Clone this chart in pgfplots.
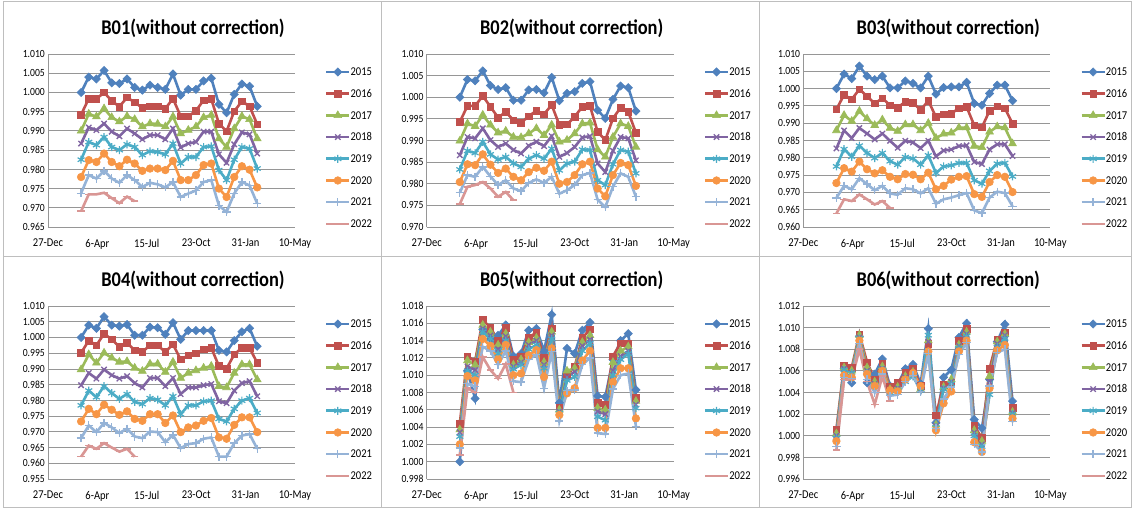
\documentclass[border=0pt]{standalone}
\usepackage{fontspec}
\setmainfont{Carlito}[FakeStretch=0.88]
\usepackage{pgfplots}
\usepackage{pgfplotstable}
\pgfplotsset{compat=1.18}

\definecolor{c1}{RGB}{79,129,189}
\definecolor{c2}{RGB}{192,80,77}
\definecolor{c3}{RGB}{155,187,89}
\definecolor{c4}{RGB}{128,100,162}
\definecolor{c5}{RGB}{75,172,198}
\definecolor{c6}{RGB}{247,150,70}
\definecolor{c7}{RGB}{149,179,215}
\definecolor{c8}{RGB}{217,150,148}
\definecolor{gridc}{RGB}{150,150,150}
\definecolor{framec}{RGB}{190,190,190}

% x = days after 27-Dec; columns a..h = 2015..2022
\pgfplotstableread{
x a b c d e f g h
67 1.0000 0.9942 0.9900 0.9867 0.9825 0.9780 0.9738 0.9691
82.5 1.0040 0.9984 0.9944 0.9909 0.9871 0.9824 0.9785 0.9735
98 1.0035 0.9983 0.9937 0.9902 0.9863 0.9819 0.9776 0.9735
113.5 1.0057 1.0000 0.9958 0.9919 0.9884 0.9841 0.9796 0.9739
129 1.0025 0.9978 0.9935 0.9898 0.9858 0.9819 0.9776 0.9725
144.5 1.0023 0.9963 0.9924 0.9886 0.9850 0.9808 0.9765 0.9712
160 1.0035 0.9987 0.9938 0.9906 0.9865 0.9825 0.9785 0.9729
175.5 1.0013 0.9974 0.9930 0.9893 0.9858 0.9815 0.9772 0.9717
191 1.0006 0.9960 0.9911 0.9878 0.9837 0.9796 0.9754 nan
206.5 1.0019 0.9964 0.9919 0.9889 0.9847 0.9802 0.9765 nan
222 1.0013 0.9964 0.9918 0.9889 0.9845 0.9802 0.9761 nan
237.5 1.0008 0.9958 0.9911 0.9878 0.9839 0.9798 0.9753 nan
253 1.0048 0.9984 0.9937 0.9906 0.9867 0.9822 0.9767 nan
268.5 0.9993 0.9938 0.9893 0.9857 0.9815 0.9772 0.9728 nan
284 1.0008 0.9938 0.9902 0.9867 0.9832 0.9772 0.9737 nan
299.5 1.0008 0.9952 0.9911 0.9871 0.9832 0.9785 0.9745 nan
315 1.0030 0.9980 0.9935 0.9898 0.9858 0.9811 0.9767 nan
330.5 1.0037 0.9983 0.9941 0.9898 0.9860 0.9815 0.9772 nan
346 0.9969 0.9919 0.9880 0.9839 0.9798 0.9750 0.9706 nan
361.5 0.9947 0.9899 0.9858 0.9817 0.9772 0.9728 0.9689 nan
377 0.9995 0.9951 0.9906 0.9865 0.9825 0.9780 0.9737 nan
392.5 1.0022 0.9977 0.9938 0.9896 0.9858 0.9808 0.9767 nan
408 1.0016 0.9964 0.9930 0.9891 0.9854 0.9799 0.9758 nan
423.5 0.9964 0.9917 0.9880 0.9841 0.9802 0.9753 0.9711 nan
}\tabA

\pgfplotstableread{
x a b c d e f g h
67 1.0000 0.9943 0.9899 0.9866 0.9833 0.9804 0.9779 0.9753
82.5 1.0041 0.9980 0.9939 0.9908 0.9876 0.9845 0.9820 0.9793
98 1.0038 0.9980 0.9933 0.9905 0.9871 0.9843 0.9816 0.9797
113.5 1.0061 1.0003 0.9959 0.9928 0.9897 0.9868 0.9839 0.9804
129 1.0027 0.9978 0.9936 0.9901 0.9868 0.9844 0.9817 0.9789
144.5 1.0018 0.9953 0.9918 0.9885 0.9856 0.9825 0.9797 0.9770
160 1.0022 0.9966 0.9922 0.9893 0.9862 0.9835 0.9808 0.9781
175.5 0.9993 0.9947 0.9908 0.9878 0.9847 0.9816 0.9789 0.9762
191 0.9993 0.9941 0.9907 0.9870 0.9839 0.9808 0.9783 nan
206.5 1.0017 0.9956 0.9916 0.9888 0.9858 0.9827 0.9802 nan
222 1.0018 0.9969 0.9928 0.9897 0.9866 0.9837 0.9810 nan
237.5 1.0010 0.9961 0.9912 0.9887 0.9858 0.9830 0.9802 nan
253 1.0046 0.9982 0.9936 0.9910 0.9881 0.9851 0.9816 nan
268.5 0.9992 0.9936 0.9897 0.9862 0.9831 0.9800 0.9777 nan
284 1.0009 0.9937 0.9901 0.9871 0.9847 0.9804 0.9785 nan
299.5 1.0013 0.9955 0.9916 0.9885 0.9851 0.9820 0.9797 nan
315 1.0032 0.9978 0.9939 0.9907 0.9879 0.9845 0.9820 nan
330.5 1.0036 0.9980 0.9941 0.9910 0.9878 0.9851 0.9825 nan
346 0.9970 0.9920 0.9879 0.9847 0.9808 0.9789 0.9763 nan
361.5 0.9951 0.9901 0.9862 0.9827 0.9797 0.9771 0.9746 nan
377 0.9995 0.9951 0.9908 0.9876 0.9845 0.9820 0.9793 nan
392.5 1.0026 0.9976 0.9939 0.9908 0.9878 0.9848 0.9824 nan
408 1.0022 0.9966 0.9933 0.9905 0.9874 0.9843 0.9816 nan
423.5 0.9968 0.9918 0.9885 0.9854 0.9824 0.9795 0.9770 nan
}\tabB

\pgfplotstableread{
x a b c d e f g h
67 1.0000 0.9940 0.9879 0.9827 0.9775 0.9727 0.9684 0.9639
82.5 1.0042 0.9982 0.9923 0.9879 0.9825 0.9770 0.9719 0.9680
98 1.0029 0.9969 0.9906 0.9857 0.9803 0.9760 0.9709 0.9675
113.5 1.0065 0.9998 0.9935 0.9886 0.9835 0.9789 0.9741 0.9694
129 1.0036 0.9978 0.9913 0.9870 0.9814 0.9767 0.9724 0.9680
144.5 1.0026 0.9957 0.9894 0.9853 0.9799 0.9755 0.9706 0.9665
160 1.0036 0.9972 0.9910 0.9870 0.9814 0.9764 0.9719 0.9675
175.5 1.0002 0.9952 0.9886 0.9849 0.9790 0.9745 0.9697 0.9655
191 1.0002 0.9945 0.9877 0.9829 0.9780 0.9738 0.9693 nan
206.5 1.0022 0.9962 0.9896 0.9849 0.9802 0.9753 0.9712 nan
222 1.0015 0.9959 0.9896 0.9844 0.9798 0.9751 0.9709 nan
237.5 1.0002 0.9938 0.9879 0.9828 0.9780 0.9738 0.9697 nan
253 1.0036 0.9965 0.9900 0.9849 0.9807 0.9757 0.9712 nan
268.5 0.9984 0.9918 0.9857 0.9804 0.9756 0.9709 0.9667 nan
284 1.0003 0.9926 0.9869 0.9821 0.9775 0.9719 0.9680 nan
299.5 1.0005 0.9928 0.9872 0.9824 0.9778 0.9737 0.9685 nan
315 1.0005 0.9943 0.9887 0.9834 0.9785 0.9745 0.9692 nan
330.5 1.0018 0.9947 0.9887 0.9836 0.9785 0.9747 0.9698 nan
346 0.9957 0.9894 0.9834 0.9788 0.9735 0.9695 0.9648 nan
361.5 0.9952 0.9888 0.9830 0.9782 0.9725 0.9687 0.9640 nan
377 0.9986 0.9936 0.9875 0.9824 0.9762 0.9730 0.9685 nan
392.5 1.0010 0.9949 0.9890 0.9839 0.9783 0.9750 0.9702 nan
408 1.0010 0.9943 0.9887 0.9839 0.9785 0.9745 0.9698 nan
423.5 0.9965 0.9899 0.9841 0.9805 0.9746 0.9701 0.9660 nan
}\tabC

\pgfplotstableread{
x a b c d e f g h
67 1.0000 0.9951 0.9898 0.9848 0.9784 0.9733 0.9680 0.9621
82.5 1.0039 0.9990 0.9946 0.9887 0.9831 0.9773 0.9720 0.9656
98 1.0029 0.9975 0.9919 0.9869 0.9810 0.9756 0.9699 0.9646
113.5 1.0066 1.0012 0.9951 0.9898 0.9845 0.9786 0.9728 0.9664
129 1.0039 0.9994 0.9935 0.9880 0.9823 0.9770 0.9714 0.9650
144.5 1.0036 0.9970 0.9922 0.9869 0.9805 0.9754 0.9696 0.9637
160 1.0041 0.9983 0.9924 0.9877 0.9820 0.9765 0.9710 0.9646
175.5 1.0007 0.9959 0.9903 0.9855 0.9795 0.9741 0.9685 0.9621
191 1.0007 0.9954 0.9893 0.9841 0.9788 0.9735 0.9680 nan
206.5 1.0033 0.9975 0.9916 0.9871 0.9807 0.9756 0.9701 nan
222 1.0031 0.9975 0.9916 0.9871 0.9802 0.9756 0.9699 nan
237.5 1.0010 0.9954 0.9890 0.9845 0.9784 0.9728 0.9667 nan
253 1.0047 0.9978 0.9922 0.9871 0.9813 0.9752 0.9690 nan
268.5 0.9994 0.9930 0.9871 0.9820 0.9756 0.9699 0.9648 nan
284 1.0022 0.9943 0.9887 0.9841 0.9784 0.9714 0.9661 nan
299.5 1.0022 0.9949 0.9895 0.9841 0.9784 0.9720 0.9664 nan
315 1.0022 0.9962 0.9903 0.9848 0.9797 0.9735 0.9678 nan
330.5 1.0022 0.9967 0.9909 0.9852 0.9799 0.9744 0.9682 nan
346 0.9959 0.9909 0.9845 0.9797 0.9741 0.9682 0.9621 nan
361.5 0.9954 0.9901 0.9841 0.9791 0.9733 0.9678 0.9621 nan
377 0.9990 0.9946 0.9887 0.9831 0.9773 0.9722 0.9664 nan
392.5 1.0018 0.9967 0.9914 0.9855 0.9799 0.9746 0.9688 nan
408 1.0029 0.9967 0.9914 0.9861 0.9807 0.9746 0.9693 nan
423.5 0.9972 0.9919 0.9866 0.9813 0.9760 0.9699 0.9646 nan
}\tabD

\pgfplotstableread{
x a b c d e f g h
67 1.0000 1.0044 1.0037 1.0034 1.0029 1.0020 1.0016 1.0008
82.5 1.0105 1.0122 1.0117 1.0110 1.0105 1.0099 1.0090 1.0085
98 1.0073 1.0116 1.0112 1.0106 1.0100 1.0094 1.0087 1.0080
113.5 1.0153 1.0164 1.0158 1.0154 1.0150 1.0142 1.0133 1.0121
129 1.0142 1.0155 1.0150 1.0146 1.0142 1.0134 1.0128 1.0106
144.5 1.0146 1.0140 1.0135 1.0130 1.0125 1.0118 1.0112 1.0096
160 1.0158 1.0155 1.0148 1.0145 1.0140 1.0135 1.0128 1.0113
175.5 1.0122 1.0118 1.0112 1.0110 1.0107 1.0100 1.0093 1.0080
191 1.0125 1.0122 1.0118 1.0115 1.0112 1.0102 1.0092 nan
206.5 1.0152 1.0144 1.0138 1.0135 1.0130 1.0123 1.0118 nan
222 1.0154 1.0149 1.0143 1.0140 1.0135 1.0129 1.0124 nan
237.5 1.0128 1.0120 1.0115 1.0112 1.0108 1.0098 1.0085 nan
253 1.0170 1.0154 1.0150 1.0146 1.0142 1.0131 1.0127 nan
268.5 1.0068 1.0062 1.0060 1.0058 1.0056 1.0054 1.0047 nan
284 1.0131 1.0100 1.0105 1.0098 1.0094 1.0079 1.0082 nan
299.5 1.0125 1.0110 1.0108 1.0104 1.0098 1.0085 1.0083 nan
315 1.0152 1.0143 1.0138 1.0134 1.0128 1.0117 1.0112 nan
330.5 1.0161 1.0153 1.0146 1.0141 1.0137 1.0128 1.0120 nan
346 1.0076 1.0068 1.0062 1.0058 1.0052 1.0039 1.0033 nan
361.5 1.0075 1.0066 1.0060 1.0055 1.0048 1.0039 1.0032 nan
377 1.0118 1.0122 1.0115 1.0105 1.0100 1.0092 1.0084 nan
392.5 1.0140 1.0137 1.0128 1.0122 1.0118 1.0108 1.0100 nan
408 1.0148 1.0137 1.0133 1.0128 1.0125 1.0108 1.0102 nan
423.5 1.0083 1.0074 1.0070 1.0066 1.0062 1.0050 1.0041 nan
}\tabE

\pgfplotstableread{
x a b c d e f g h
67 1.0000 1.0006 1.0002 1.0000 0.9998 0.9995 0.9990 0.9987
82.5 1.0062 1.0065 1.0063 1.0062 1.0061 1.0056 1.0054 1.0052
98 1.0049 1.0063 1.0060 1.0058 1.0058 1.0054 1.0053 1.0052
113.5 1.0092 1.0094 1.0093 1.0091 1.0090 1.0088 1.0085 1.0080
129 1.0049 1.0068 1.0063 1.0060 1.0058 1.0057 1.0052 1.0050
144.5 1.0057 1.0052 1.0050 1.0048 1.0046 1.0046 1.0040 1.0029
160 1.0071 1.0067 1.0064 1.0062 1.0061 1.0060 1.0057 1.0055
175.5 1.0046 1.0045 1.0043 1.0042 1.0040 1.0042 1.0037 1.0032
191 1.0047 1.0049 1.0045 1.0044 1.0042 1.0041 1.0038 nan
206.5 1.0062 1.0058 1.0055 1.0054 1.0050 1.0052 1.0050 nan
222 1.0066 1.0062 1.0059 1.0058 1.0055 1.0058 1.0056 nan
237.5 1.0048 1.0046 1.0043 1.0043 1.0042 1.0046 1.0041 nan
253 1.0099 1.0085 1.0088 1.0087 1.0093 1.0078 1.0076 nan
268.5 1.0012 1.0019 1.0010 1.0009 1.0008 1.0005 1.0007 nan
284 1.0054 1.0047 1.0045 1.0044 1.0043 1.0030 1.0034 nan
299.5 1.0061 1.0049 1.0052 1.0050 1.0048 1.0041 1.0045 nan
315 1.0091 1.0088 1.0084 1.0083 1.0081 1.0078 1.0075 nan
330.5 1.0104 1.0099 1.0096 1.0094 1.0092 1.0088 1.0086 nan
346 1.0015 1.0009 1.0005 1.0003 1.0000 0.9994 0.9992 nan
361.5 1.0007 0.9998 0.9995 0.9992 0.9990 0.9985 0.9985 nan
377 1.0052 1.0062 1.0055 1.0050 1.0038 1.0044 1.0046 nan
392.5 1.0087 1.0089 1.0087 1.0085 1.0082 1.0079 1.0077 nan
408 1.0103 1.0095 1.0094 1.0093 1.0090 1.0084 1.0080 nan
423.5 1.0032 1.0026 1.0022 1.0021 1.0020 1.0016 1.0013 nan
}\tabF

\pgfplotsset{
  s1/.style={color=c1, line width=2.6bp, mark=square*, mark size=2.9bp, mark options={rotate=45, line width=0.6bp}},
  s2/.style={color=c2, line width=2.6bp, mark=square*, mark size=3.3bp, mark options={line width=0.6bp}},
  s3/.style={color=c3, line width=2.6bp, mark=triangle*, mark size=4.5bp, mark options={line width=0.6bp}},
  s4/.style={color=c4, line width=2.6bp, mark=x, mark size=3.8bp, mark options={line width=1.3bp}},
  s5/.style={color=c5, line width=2.6bp, mark=asterisk, mark size=4bp, mark options={line width=1.2bp}},
  s6/.style={color=c6, line width=2.6bp, mark=*, mark size=3.8bp, mark options={line width=0.6bp}},
  s7/.style={color=c7, line width=2.6bp, mark=+, mark size=4.1bp, mark options={line width=1.3bp}},
  s8/.style={color=c8, line width=2.6bp, mark=-, mark size=3.8bp, mark options={line width=1.6bp}},
  panel/.style={
    scale only axis, width=247bp, height=173bp, anchor=south west,
    xmin=0, xmax=500, xtick={0,100,...,500},
    xticklabels={27-Dec,6-Apr,15-Jul,23-Oct,31-Jan,10-May},
    axis lines*=left, axis line style={gridc, line width=0.8bp, -},
    ymajorgrids, grid style={gridc, line width=0.8bp},
    major tick length=0pt, tick style={draw=none},
    scaled y ticks=false,
    yticklabel style={font=\fontsize{11}{13}\selectfont, inner sep=0pt, xshift=-3bp,
      /pgf/number format/.cd, fixed, fixed zerofill, precision=3, assume math mode=true},
    xticklabel style={font=\fontsize{12}{14}\selectfont, inner sep=0pt, yshift=-12bp},
    title style={at={(0.587,1.114)}, anchor=center, inner sep=0pt, yshift=0pt,
      font=\bfseries\fontsize{21}{24}\selectfont},
    legend style={at={(1.1215,0.9587)}, anchor=north west, draw=none, fill=none,
      inner sep=0pt, outer sep=0pt, row sep=0pt, font=\fontsize{12}{14}\selectfont,
      nodes={inner sep=0pt, text height=14.5bp, text depth=7.2bp},
      /tikz/every even column/.append style={column sep=2bp}},
    legend cell align=left,
    legend image code/.code={
      \draw[##1] (0bp,0bp) -- (23bp,0bp);
      \draw[##1] plot coordinates {(11.5bp,0bp)};
    },
  },
}

\newcommand\drawpanel[7]{%
  \begin{axis}[panel, at={(#1,#2)}, title={#3}, ymin=#5, ymax=#6, ytick distance=#7]
    \addplot[s1] table[x=x,y=a]{#4};
    \addplot[s2] table[x=x,y=b]{#4};
    \addplot[s3] table[x=x,y=c]{#4};
    \addplot[s4] table[x=x,y=d]{#4};
    \addplot[s5] table[x=x,y=e]{#4};
    \addplot[s6] table[x=x,y=f]{#4};
    \addplot[s7] table[x=x,y=g]{#4};
    \addplot[s8] table[x=x,y=h]{#4};
    \legend{2015,2016,2017,2018,2019,2020,2021,2022}
  \end{axis}}

\begin{document}
\begin{tikzpicture}[x=1bp, y=1bp]
  \useasboundingbox (0,0) rectangle (1132,509);
  \fill[white] (0,0) rectangle (1132,509);
  \draw[framec, line width=1bp] (3,252.3) rectangle (381.7,507.5);
  \draw[framec, line width=1bp] (381.7,252.3) rectangle (759,507.5);
  \draw[framec, line width=1bp] (759,252.3) rectangle (1131,507.5);
  \draw[framec, line width=1bp] (3,1) rectangle (381.7,252.3);
  \draw[framec, line width=1bp] (381.7,1) rectangle (759,252.3);
  \draw[framec, line width=1bp] (759,1) rectangle (1131,252.3);

  \drawpanel{48bp}{282bp}{B01(without correction)}{\tabA}{0.965}{1.010}{0.005}
  \drawpanel{426.7bp}{282bp}{B02(without correction)}{\tabB}{0.970}{1.010}{0.005}
  \drawpanel{803.3bp}{282bp}{B03(without correction)}{\tabC}{0.960}{1.010}{0.005}
  \drawpanel{48bp}{30bp}{B04(without correction)}{\tabD}{0.955}{1.010}{0.005}
  \drawpanel{426.7bp}{30bp}{B05(without correction)}{\tabE}{0.998}{1.018}{0.002}
  \drawpanel{803.3bp}{30bp}{B06(without correction)}{\tabF}{0.996}{1.012}{0.002}
\end{tikzpicture}
\end{document}
